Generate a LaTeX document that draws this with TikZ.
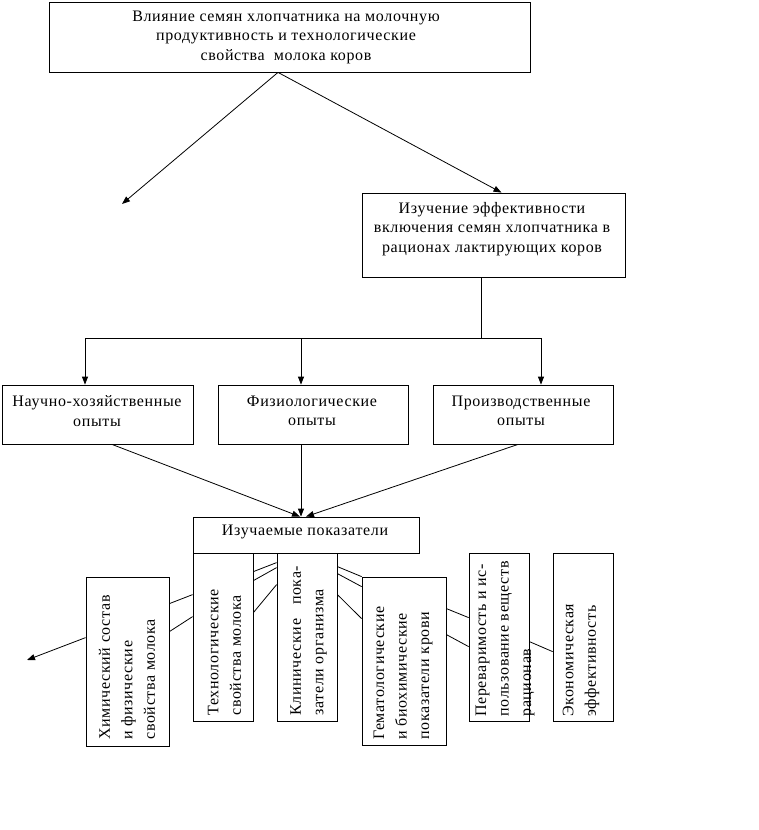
\documentclass[tikz,border=0pt]{standalone}
\usepackage{fontspec}
\setmainfont{Liberation Serif}[LetterSpace=4]
\usetikzlibrary{arrows.meta}
\begin{document}
\begin{tikzpicture}[x=1pt,y=-1pt,line width=0.8pt,
  box/.style={draw,inner sep=0pt},
  htxt/.style={inner sep=0pt,align=center,font=\fontsize{16}{19.5}\selectfont},
  vtxt/.style={inner sep=0pt,align=left,rotate=90,anchor=west,font=\fontsize{16}{22.5}\selectfont},
  arr/.style={-{Triangle[length=8pt,width=6pt]}}]
\useasboundingbox (0,0) rectangle (758,830);
% boxes
\node[box,minimum width=481pt,minimum height=70pt] (top) at (289.5,37) {};
\node[htxt] (topt) at (286,37) {Влияние семян хлопчатника на молочную\\продуктивность и технологические\\свойства\ \ молока коров};
\node[box,minimum width=263pt,minimum height=84pt] (b2) at (493.5,235) {};
\node[htxt] (b2t) at (492,229) {Изучение эффективности\\включения семян хлопчатника в\\рационах лактирующих коров};
\node[box,minimum width=191pt,minimum height=59pt] (A) at (97.5,414.5) {};
\node[htxt] (At) at (97,411) {Научно-хозяйственные\\опыты};
\node[box,minimum width=190pt,minimum height=59pt] (B) at (313,414.5) {};
\node[htxt] (Bt) at (312,411) {Физиологические\\опыты};
\node[box,minimum width=180pt,minimum height=59pt] (C) at (523,414.5) {};
\node[htxt] (Ct) at (521,411) {Производственные\\опыты};
\node[box,minimum width=226pt,minimum height=36pt] (iz) at (306,535) {};
\node[htxt] (izt) at (305,532) {Изучаемые показатели};
% vertical boxes
\node[box,minimum width=83pt,minimum height=169pt] (chem) at (127.5,661.5) {};
\node[vtxt] (chemt) at (127,740) {Химический состав\\и физические\\свойства молока};
\node[box,minimum width=60pt,minimum height=168pt] (tech) at (223,637) {};
\node[vtxt] (techt) at (224.5,716) {Технологические\\свойства молока};
\node[box,minimum width=60pt,minimum height=168pt] (clin) at (307,637) {};
\node[vtxt] (clint) at (308.5,716) {Клинические\ \ \ пока-\\затели организма};
\node[box,minimum width=84pt,minimum height=168pt] (hemat) at (404,661) {};
\node[vtxt] (hematt) at (403,740) {Гематологические\\и биохимические\\показатели крови};
\node[box,minimum width=60pt,minimum height=168pt] (perev) at (499,637) {};
\node[vtxt] (perevt) at (505,717) {Переваримость и ис-\\пользование веществ\\рационав};
\node[box,minimum width=60pt,minimum height=168pt] (econ) at (583,637) {};
\node[vtxt] (econt) at (581,717) {Экономическая\\эффективность};
% free ends
\coordinate (ltip) at (122,204);
\coordinate (lltip) at (27,660);
\coordinate (hub) at (481,338);
% arrows from top
\draw[arr] ([xshift=-11.5pt]top.south) -- (ltip);
\draw[arr] ([xshift=-11.5pt]top.south) -- ([xshift=8pt]b2.north);
\draw ([xshift=-12.5pt]b2.south) -- (hub);
\draw[arr] (hub) -| ([xshift=-12.5pt]A.north);
\draw[arr] (hub) -| ([xshift=-12pt]B.north);
\draw[arr] (hub) -| ([xshift=18pt]C.north);
\draw[arr] ([xshift=14.5pt]A.south) -- ([xshift=-6pt]iz.north);
\draw[arr] ([xshift=-12pt]B.south) -- ([xshift=-5pt]iz.north);
\draw[arr] ([xshift=-5pt]C.south) -- (iz.north);
% links between vertical boxes
\draw ([yshift=-27pt]chem.north east) -- ([yshift=-42pt]tech.north west);
\draw ([yshift=-55pt]chem.north east) -- ([yshift=-64pt]tech.north west);
\draw ([yshift=-19pt]tech.north east) -- ([yshift=-10pt]clin.north west);
\draw ([yshift=-28pt]tech.north east) -- ([yshift=-15pt]clin.north west);
\draw ([yshift=-60pt]tech.north east) -- ([yshift=-32pt]clin.north west);
\draw ([yshift=-14pt]clin.north east) -- ([yshift=0pt]hemat.north west);
\draw ([yshift=-21pt]clin.north east) -- ([yshift=-10pt]hemat.north west);
\draw ([yshift=-42pt]clin.north east) -- ([yshift=-42pt]hemat.north west);
\draw ([yshift=-32pt]hemat.north east) -- ([yshift=-65pt]perev.north west);
\draw ([yshift=-58pt]hemat.north east) -- ([yshift=-94pt]perev.north west);
\draw ([yshift=-89pt]perev.north east) -- ([yshift=-99pt]econ.north west);
\draw[arr] ([yshift=-61pt]chem.north west) -- (lltip);
\end{tikzpicture}
\end{document}
